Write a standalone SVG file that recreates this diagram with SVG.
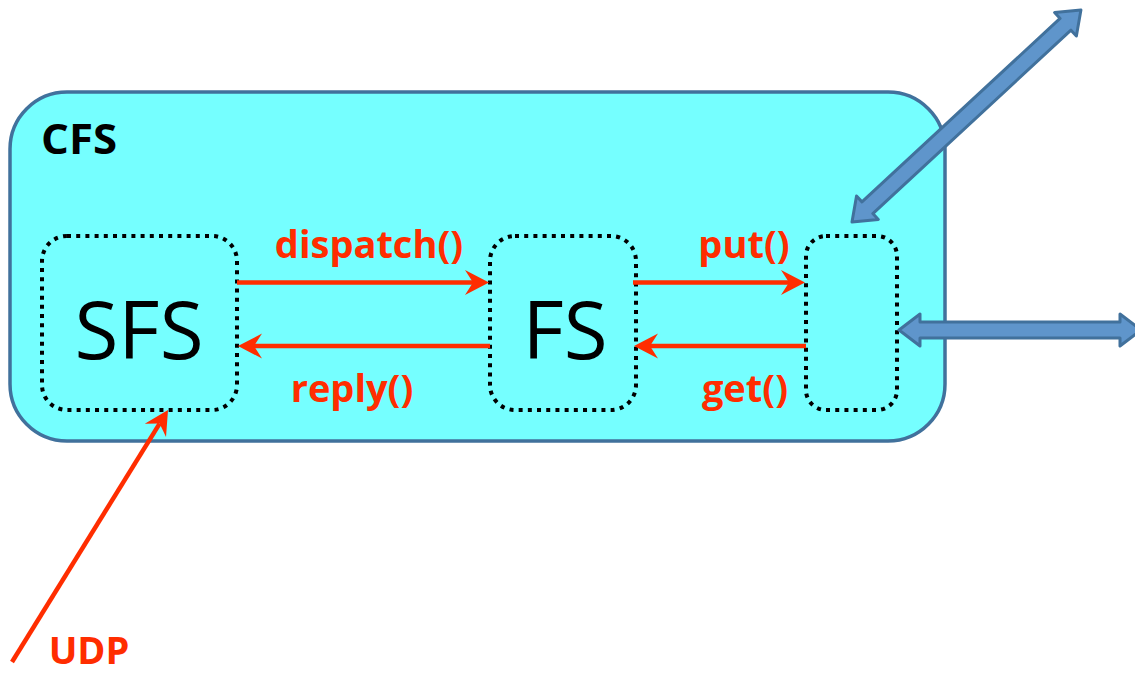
<svg xmlns="http://www.w3.org/2000/svg" width="1135" height="674" viewBox="0 0 1135 674">
<style>
.dot{fill:none;stroke:#000;stroke-width:4;stroke-dasharray:4 5.2}
.red{stroke:#FF2D00;stroke-width:4.5;fill:none}
.lbl{font-family:"Open Sans","Liberation Sans",sans-serif;font-weight:bold;font-size:38px;fill:#FF2D00;text-anchor:middle}
.big{font-family:"Open Sans","Liberation Sans",sans-serif;font-size:80px;fill:#000;text-anchor:middle}
.blk{fill:#5F95CB;stroke:#41719C;stroke-width:3;stroke-linejoin:round}
</style>
<defs>
<marker id="ah" markerUnits="userSpaceOnUse" markerWidth="24" markerHeight="25" refX="8" refY="12.5" orient="auto" overflow="visible">
<path d="M0,0 L24,12.5 L0,25 L8,12.5 Z" fill="#FF2D00"/>
</marker>
</defs>
<rect width="1135" height="674" fill="#fff"/>
<g id="CFS">
<rect x="10" y="92" width="935" height="349" rx="57" ry="57" fill="#75FFFF" stroke="#41719C" stroke-width="3.5"/>
<text x="41" y="154" font-family="Open Sans, Liberation Sans, sans-serif" font-weight="bold" font-size="42" fill="#000" textLength="76" lengthAdjust="spacingAndGlyphs">CFS</text>
</g>
<g id="SFS">
<rect class="dot" x="42" y="236" width="195" height="174" rx="25" ry="25"/>
<text class="big" x="139" y="359">SFS</text>
</g>
<g id="FS">
<rect class="dot" x="490" y="236" width="146" height="174" rx="25" ry="25"/>
<text class="big" x="565" y="359">FS</text>
</g>
<g id="Q">
<rect class="dot" x="806" y="236" width="91" height="174" rx="20" ry="20"/>
</g>
<g id="connectors">
<line class="red" x1="237" y1="282.5" x2="473" y2="282.5" marker-end="url(#ah)"/>
<line class="red" x1="490" y1="346" x2="254" y2="346" marker-end="url(#ah)"/>
<line class="red" x1="633" y1="282.5" x2="789" y2="282.5" marker-end="url(#ah)"/>
<line class="red" x1="806" y1="346" x2="650" y2="346" marker-end="url(#ah)"/>
<line class="red" x1="12" y1="662" x2="159.6" y2="423.6" marker-end="url(#ah)"/>
<path class="blk" transform="translate(852,222) rotate(-42.8)" d="M0,0 L21,-16 L21,-8 L291,-8 L291,-16 L312,0 L291,16 L291,8 L21,8 L21,16 Z"/>
<path class="blk" d="M899,330 L920,314 L920,322 L1120,322 L1120,314 L1141,330 L1120,346 L1120,338 L920,338 L920,346 Z"/>
<text class="lbl" x="369" y="258">dispatch()</text>
<text class="lbl" x="352" y="402">reply()</text>
<text class="lbl" x="744" y="258">put()</text>
<text class="lbl" x="745" y="402">get()</text>
<text class="lbl" x="89" y="664" font-size="39">UDP</text>
</g>
</svg>
